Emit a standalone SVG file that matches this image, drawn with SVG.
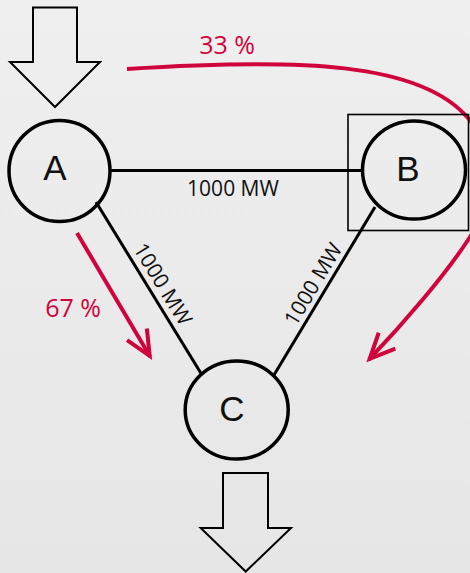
<svg xmlns="http://www.w3.org/2000/svg" width="470" height="573" viewBox="0 0 470 573">
<defs>
<linearGradient id="bg" x1="0" y1="0" x2="0" y2="1">
<stop offset="0" stop-color="#efefef"/>
<stop offset="1" stop-color="#e6e6e6"/>
</linearGradient>
<marker id="chev" markerUnits="userSpaceOnUse" orient="auto" refX="0" refY="0" markerWidth="40" markerHeight="40" overflow="visible">
<path d="M-26,-11.5 L-1,0 L-26,11.5" fill="none" stroke="#d0043c" stroke-width="4" stroke-linejoin="miter" stroke-miterlimit="10"/>
</marker>
<style>
.node{fill:none;stroke:#000;stroke-width:3.5}
.lbl{font-family:"Liberation Sans",Arial,sans-serif;font-size:35px;fill:#111;text-anchor:middle}
.edge{stroke:#000;stroke-width:3;fill:none}
.blk{fill:none;stroke:#000;stroke-width:2}
.flow{fill:none;stroke:#d0043c;stroke-width:4}
.mw{font-family:"Open Sans","DejaVu Sans",sans-serif;font-size:21px;fill:#111;text-anchor:middle}
.pct{font-family:"Open Sans","DejaVu Sans",sans-serif;font-size:25px;fill:#d0043c;text-anchor:middle}
</style>
</defs>
<rect x="0" y="0" width="470" height="573" fill="url(#bg)"/>

<g id="input-arrow">
<polygon class="blk" points="33,7.5 77,7.5 77,62 100,62 55,107 10,62 33,62"/>
</g>
<g id="output-arrow">
<polygon class="blk" points="223,473 268,473 268,528 291,528 245.7,571.5 200.7,528 223,528"/>
</g>

<g id="connectors">
<line class="edge" x1="111" y1="170.5" x2="362" y2="170.5"/>
<line class="edge" x1="96" y1="202" x2="202" y2="375"/>
<line class="edge" x1="375" y1="207" x2="274" y2="375"/>
<text class="mw" x="233" y="196">1000 MW</text>
<text class="mw" transform="translate(163,284) rotate(58.6)" x="0" y="7.5">1000 MW</text>
<text class="mw" transform="translate(313,284) rotate(-58.9)" x="0" y="7.5">1000 MW</text>
<path class="flow" d="M77,233 L150.2,356.7" marker-end="url(#chev)"/>
<path class="flow" d="M127,69 C300,58 420,62 468,118 C495,150 495,200 468,240 C445,275 405,322 369,359.5" marker-end="url(#chev)"/>
<text class="pct" x="227" y="54.3">33 %</text>
<text class="pct" x="73" y="316.7">67 %</text>
</g>

<g id="node-A">
<ellipse class="node" cx="59.5" cy="171" rx="50.5" ry="50.5"/>
<text class="lbl" x="55" y="180">A</text>
</g>
<g id="node-B">
<rect x="348" y="114.5" width="120.5" height="116" fill="none" stroke="#000" stroke-width="1.6"/>
<ellipse class="node" cx="414" cy="170" rx="51.5" ry="49"/>
<text class="lbl" x="408" y="181">B</text>
</g>
<g id="node-C">
<ellipse class="node" cx="236.7" cy="410" rx="51.5" ry="49"/>
<text class="lbl" x="232" y="421">C</text>
</g>
</svg>
